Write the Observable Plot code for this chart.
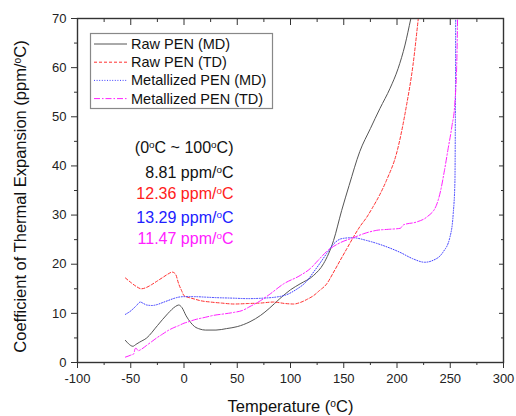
<!DOCTYPE html>
<html><head><meta charset="utf-8">
<script src="https://cdn.jsdelivr.net/npm/d3@7"></script>
<script src="https://cdn.jsdelivr.net/npm/@observablehq/plot@0.6"></script>
<style>body{margin:0;background:#fff} #chart{width:516px;height:416px}</style>
</head><body><div id="chart"></div><script>
// Raw PEN (MD)
const rawMD_T = [-55,-52,-48,-45,-42,-35,-25,-15,-8,-5,-2,2,6,10,15,20,30,40,50,62,72,80,90,100,109,121.6,131,140.4,148,155,165,175,184,193.5,201,207.5,213,220];
const rawMD_V = [4.5,3.8,3.3,3.7,4.1,5.0,7.5,10.0,11.4,11.7,11.2,9.5,8.2,7.3,6.8,6.6,6.6,6.9,7.3,8.3,9.6,11.0,13.0,14.8,16.0,17.7,20.1,24.8,30.9,36.0,42.9,47.6,51.7,55.8,59.8,64.6,70.0,77.0];
// Raw PEN (TD)
const rawTD_T = [-55,-50,-45,-40,-35,-30,-25,-20,-15,-11,-8,-5,-2,0,5,10,15,25,35,47,60,72,84,95,103,109,116,121.6,127,134,140,146.7,153,159,165,171.7,177,182.5,190,200,209,215,220,224];
const rawTD_V = [17.2,16.3,15.5,15.0,15.3,15.9,16.6,17.3,18.0,18.4,18.0,16.0,14.5,13.6,13.2,12.9,12.6,12.3,12.1,11.9,12.0,12.1,12.3,12.0,11.9,12.2,12.9,13.6,14.6,16.0,18.2,20.8,23.2,25.5,27.6,29.6,31.5,33.6,37.0,42.9,52.4,60.5,70.0,78.0];
// Metallized PEN (MD)
const metMD_T = [-55,-50,-45,-41,-38,-35,-30,-25,-20,-15,-10,-5,0,10,20,30,45,60,75,93.5,105,115,122,128,134,140,148,158,172,187,203,215,226,234,243,249.7,252.8,254.4,254.8,255.2];
const metMD_V = [9.8,10.5,11.5,12.3,12.0,11.7,11.6,11.8,12.2,12.6,13.0,13.3,13.4,13.4,13.3,13.2,13.1,13.0,13.1,13.6,14.8,16.5,18.5,20.3,22.2,24.0,25.2,25.4,24.8,23.8,22.4,21.1,20.4,20.8,22.4,25.5,30.3,37.0,50.0,76.0];
// Metallized PEN (TD)
const metTD_T = [-55,-50,-47,-46,-45,-43,-40,-35,-30,-25,-20,-15,-9.5,-5,0,3,10,20,28,38,47,55,62,72,80,93.5,109,118.5,126,134,146,159,170,181,192,203,206,218.5,228,237,241,244.5,248,251.5,254.4,256,256.6,257.2];
const metTD_V = [1.1,1.5,1.8,2.8,2.9,2.4,2.7,3.5,4.3,5.1,5.8,6.5,7.1,7.5,8.0,8.2,8.7,9.2,9.6,9.9,10.2,10.6,11.4,12.6,13.8,16.0,17.7,19.1,20.8,22.6,24.3,25.4,26.3,26.9,27.1,27.3,28.0,28.6,29.6,32.0,35.0,39.0,43.5,48.0,53.0,60.0,66.0,76.0];

const seriesNames = ["Raw PEN (MD)","Raw PEN (TD)","Metallized PEN (MD)","Metallized PEN (TD)"];
const seriesColors = ["#555555","#ff3030","#4040ff","#ff20ff"];
const seriesDash = [null,"3,2","1,1.6","6,2,1.5,2"];
const seriesT = [rawMD_T, rawTD_T, metMD_T, metTD_T];
const seriesV = [rawMD_V, rawTD_V, metMD_V, metTD_V];

const annotLines = ["(0°C ~ 100°C)","8.81 ppm/°C","12.36 ppm/°C","13.29 ppm/°C","11.47 ppm/°C"];
const annotColors = ["#111","#111","#ff2020","#2020ff","#ff20ff"];

const xMajor = [-100,-50,0,50,100,150,200,250,300];
const xMinor = [-75,-25,25,75,125,175,225,275];
const yMajor = [0,10,20,30,40,50,60,70];
const yMinor = [5,15,25,35,45,55,65];

const font = "'Liberation Sans', Arial, sans-serif";
const ml = 77, mt = 18, mr = 13, mb = 54;

const lineMarks = seriesNames.map((name, i) => {
  const rows = seriesT[i].map((t, j) => ({t, v: seriesV[i][j]}));
  return Plot.line(rows, {x: "t", y: "v", stroke: seriesColors[i], strokeWidth: 1, strokeDasharray: seriesDash[i], clip: true, curve: "monotone-x"});
});

const annotDy = [122.7, 147.8, 169.5, 193, 214];
const annotMarks = annotLines.map((s, i) => Plot.text([s], {text: d => d, frameAnchor: "top-left", dx: 156, dy: annotDy[i], textAnchor: "end", fill: annotColors[i], fontSize: 16}));

const blank = () => "";
const plain = d => String(d);
const axisColor = "#333";
const chart = Plot.plot({
  width: 516, height: 416,
  marginLeft: ml, marginTop: mt, marginRight: mr, marginBottom: mb,
  style: {fontFamily: font, fontSize: "13px", color: "#222", background: "#fff"},
  x: {domain: [-100, 300], label: null},
  y: {domain: [0, 70], label: null},
  marks: [
    ...lineMarks,
    ...annotMarks,
    Plot.axisX({ticks: xMajor, tickSize: 6, tickPadding: 5, tickFormat: plain, label: null, stroke: axisColor, fontSize: 13}),
    Plot.axisX({ticks: xMinor, tickSize: 3, tickFormat: blank, label: null, stroke: axisColor}),
    Plot.axisX({anchor: "top", ticks: xMajor, tickSize: -6, tickFormat: blank, label: null, stroke: axisColor}),
    Plot.axisX({anchor: "top", ticks: xMinor, tickSize: -3, tickFormat: blank, label: null, stroke: axisColor}),
    Plot.axisY({ticks: yMajor, tickSize: 6, tickPadding: 5, tickFormat: plain, label: null, stroke: axisColor, fontSize: 13}),
    Plot.axisY({ticks: yMinor, tickSize: 3, tickFormat: blank, label: null, stroke: axisColor}),
    Plot.axisY({anchor: "right", ticks: yMajor, tickSize: -5, tickFormat: blank, label: null, stroke: axisColor}),
    Plot.axisY({anchor: "right", ticks: yMinor, tickSize: -3, tickFormat: blank, label: null, stroke: axisColor}),
    Plot.frame({stroke: axisColor, strokeWidth: 1.4}),
    Plot.text(["Temperature (°C)"], {text: d => d, frameAnchor: "bottom", dy: 49, fontSize: 16.5, fill: "#111"}),
    Plot.text(["Coefficient of Thermal Expansion (ppm/°C)"], {text: d => d, frameAnchor: "left", textAnchor: "middle", rotate: -90, dx: -57, dy: 6, fontSize: 16.5, fill: "#111"})
  ]
});

// Legend drawn into the chart's SVG
const svg = d3.select(chart);
const lg = svg.append("g").attr("font-family", font).attr("font-size", 14.5);
lg.append("rect").attr("x", 90.5).attr("y", 33.5).attr("width", 182).attr("height", 75)
  .attr("fill", "#fff").attr("stroke", "#888").attr("stroke-width", 1.2);
seriesNames.forEach((name, i) => {
  const y = 44 + i * 18.2;
  lg.append("line").attr("x1", 94).attr("x2", 127).attr("y1", y).attr("y2", y)
    .attr("stroke", seriesColors[i]).attr("stroke-width", 1).attr("stroke-dasharray", seriesDash[i]);
  lg.append("text").attr("x", 131).attr("y", y).attr("dy", "0.35em").attr("text-anchor", "start").attr("fill", "#111").text(name);
});

// Render the degree sign as a superscript "o"
svg.selectAll("text, tspan").each(function() {
  if (this.children.length) return;
  const s = this.textContent;
  if (!s.includes("°")) return;
  const sel = d3.select(this);
  sel.text(null);
  s.split("°").forEach((part, k) => {
    if (k > 0) {
      sel.append("tspan").attr("baseline-shift", "super").attr("font-size", "0.62em").text("o");
    }
    sel.append("tspan").text(part);
  });
});

document.getElementById("chart").append(chart);
</script></body></html>
